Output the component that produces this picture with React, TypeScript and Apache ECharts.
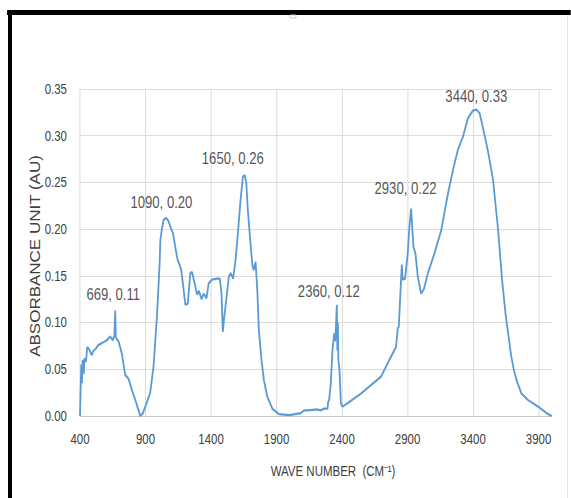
import React, { useEffect, useRef } from "react";
import * as echarts from "echarts";

// Wave numbers (cm^-1) and absorbance
const waveNumbers = [
  400, 405, 410, 415, 420, 428, 435, 445, 456, 471, 489, 500, 520, 540, 566, 604, 630, 650, 662, 669, 673, 677,
  694, 719, 745, 770, 796, 829, 860, 880, 911, 936, 961, 987, 1008, 1013, 1025, 1038, 1058, 1074, 1093, 1110,
  1127, 1145, 1160, 1173, 1191, 1204, 1222, 1242, 1255, 1275, 1293, 1308, 1327, 1344, 1365, 1382, 1408, 1447,
  1467, 1480, 1490, 1500, 1510, 1536, 1550, 1569, 1587, 1605, 1625, 1643, 1656, 1669, 1681, 1697, 1715, 1725,
  1740, 1753, 1765, 1785, 1804, 1829, 1855, 1868, 1918, 2000, 2085, 2110, 2136, 2212, 2238, 2263, 2289, 2294,
  2301, 2314, 2327, 2340, 2348, 2356, 2360, 2364, 2368, 2372, 2380, 2391, 2404, 2455, 2544, 2620, 2697, 2761,
  2812, 2825, 2833, 2845, 2856, 2863, 2881, 2901, 2914, 2927, 2935, 2945, 2960, 2978, 3003, 3024, 3055, 3105,
  3157, 3208, 3246, 3284, 3323, 3361, 3399, 3425, 3450, 3476, 3514, 3552, 3591, 3621, 3647, 3662, 3690, 3710,
  3731, 3769, 3820, 3897, 3961, 4000,
];
const absorbance = [
  0.0, 0.03, 0.055, 0.035, 0.06, 0.045, 0.062, 0.058, 0.074, 0.071, 0.065, 0.069, 0.072, 0.076, 0.078, 0.081,
  0.085, 0.081, 0.086, 0.113, 0.085, 0.083, 0.08, 0.067, 0.044, 0.04, 0.028, 0.014, 0.0, 0.003, 0.015, 0.025,
  0.053, 0.106, 0.164, 0.188, 0.2, 0.21, 0.212, 0.209, 0.201, 0.1955, 0.181, 0.167, 0.162, 0.156, 0.135, 0.119,
  0.12, 0.153, 0.154, 0.142, 0.13, 0.134, 0.125, 0.131, 0.126, 0.142, 0.146, 0.147, 0.147, 0.131, 0.09, 0.105,
  0.117, 0.149, 0.153, 0.147, 0.167, 0.1955, 0.231, 0.256, 0.258, 0.25, 0.22, 0.192, 0.162, 0.156, 0.165, 0.135,
  0.092, 0.06, 0.038, 0.021, 0.012, 0.008, 0.002, 0.001, 0.003, 0.006, 0.006, 0.007, 0.006, 0.008, 0.008,
  0.015, 0.017, 0.035, 0.071, 0.0885, 0.08, 0.105, 0.119, 0.07, 0.1, 0.06, 0.05, 0.0135, 0.01, 0.015, 0.024,
  0.033, 0.042, 0.06, 0.074, 0.094, 0.0955, 0.131, 0.162, 0.146, 0.147, 0.174, 0.2026, 0.222, 0.2026, 0.181,
  0.174, 0.149, 0.131, 0.1356, 0.153, 0.174, 0.199, 0.238, 0.263, 0.285, 0.299, 0.319, 0.327, 0.328, 0.324,
  0.308, 0.283, 0.253, 0.199, 0.146, 0.11, 0.094, 0.065, 0.05, 0.0385, 0.024, 0.017, 0.01, 0.003, 0.0,
];

// Peak annotations
const peakWaveNumbers = [669, 1090, 1650, 2360, 2930, 3440];
const peakAbsorbance = [0.11, 0.2, 0.26, 0.12, 0.22, 0.33];
const peakLabels = ["669, 0.11", "1090, 0.20", "1650, 0.26", "2360, 0.12", "2930, 0.22", "3440, 0.33"];

const xTickStart = 400;
const xTickEnd = 4000;
const xTickStep = 500;
const yTickStart = 0;
const yTickEnd = 0.35;
const yTickStep = 0.05;

const xTitle = "WAVE NUMBER  (CM\u207B\u00B9)";
const yTitle = "ABSORBANCE UNIT (AU)";

const FONT = "'Liberation Sans', Arial, sans-serif";

// the reference picture is squeezed horizontally; draw wide and squeeze the same way
const PAGE_W = 571;
const PAGE_H = 498;
const SQUEEZE = 0.82;
const W = PAGE_W / SQUEEZE;
const sx = (px: number) => px / SQUEEZE;

// label placement relative to the annotated point (page px)
const labelOffsets: [number, number][] = [
  [-2, -19],
  [-9, -27],
  [-11, -15],
  [-8, -12],
  [-6, -22],
  [-2, -11],
];

export default function App() {
  const ref = useRef<HTMLDivElement>(null);
  useEffect(() => {
    if (!ref.current) return;
    const chart = echarts.init(ref.current, undefined, { renderer: "svg" });
    const gridCount = Math.round((xTickEnd - xTickStart) / xTickStep) + 1;
    const splitColors = [] as string[];
    for (let i = 0; i < gridCount; i++) splitColors.push("#d9d9d9");
    splitColors.push("rgba(0,0,0,0)");
    chart.setOption({
      animation: false,
      backgroundColor: "#ffffff",
      grid: { left: sx(80), right: sx(19), top: 89, bottom: 82, containLabel: false },
      xAxis: {
        type: "value",
        min: xTickStart,
        max: xTickEnd,
        interval: xTickStep,
        axisLine: { show: true, lineStyle: { color: "#c8c8c8", width: 1 } },
        axisTick: { show: false },
        axisLabel: {
          showMaxLabel: false,
          margin: 16,
          fontSize: 14,
          fontFamily: FONT,
          color: "#404040",
          formatter: (v: number) => String(v),
        },
        splitLine: { show: true, lineStyle: { color: splitColors, width: 1.2 } },
      },
      yAxis: {
        type: "value",
        min: yTickStart,
        max: yTickEnd,
        interval: yTickStep,
        axisLine: { show: false },
        axisTick: { show: false },
        axisLabel: {
          margin: sx(13),
          fontSize: 14,
          fontFamily: FONT,
          color: "#404040",
          formatter: (v: number) => v.toFixed(2),
        },
        splitLine: { show: true, lineStyle: { color: "#d9d9d9", width: 1 } },
      },
      series: [
        {
          type: "line",
          data: waveNumbers.map((w, i) => [w, absorbance[i]]),
          showSymbol: false,
          symbol: "none",
          lineStyle: { color: "#5b9bd5", width: 2.2 },
          z: 3,
        },
        {
          type: "scatter",
          symbolSize: 0,
          data: peakWaveNumbers.map((w, i) => ({
            value: [w, peakAbsorbance[i]],
            label: { offset: [sx(labelOffsets[i][0]), labelOffsets[i][1]] },
          })),
          label: {
            show: true,
            position: "inside",
            fontSize: 16,
            fontFamily: FONT,
            color: "#262626",
            formatter: (p: any) => peakLabels[p.dataIndex],
          },
          z: 5,
        },
      ],
      graphic: [
        { type: "rect", shape: { x: sx(7), y: 10, width: W, height: 5 }, style: { fill: "#000" } },
        { type: "rect", shape: { x: sx(8), y: 10, width: sx(4), height: PAGE_H }, style: { fill: "#000" } },
        { type: "line", shape: { x1: sx(567.5), y1: 15, x2: sx(567.5), y2: PAGE_H }, style: { stroke: "#e6e6e6", lineWidth: 1.2 } },
        { type: "rect", shape: { x: sx(290), y: 15, width: sx(6), height: 3 }, style: { fill: "#fff", stroke: "#cccccc", lineWidth: 1 } },
        {
          type: "text",
          x: sx(333),
          y: 471,
          style: { text: xTitle, fontSize: 14, fontFamily: FONT, fill: "#404040", align: "center", verticalAlign: "middle" },
        },
        {
          type: "text",
          x: sx(35),
          y: 256,
          rotation: Math.PI / 2,
          style: { text: yTitle, fontSize: 17, fontFamily: FONT, fill: "#404040", align: "center", verticalAlign: "middle" },
        },
      ],
    });
    return () => chart.dispose();
  }, []);
  return (
    <div
      style={{
        position: "fixed",
        left: 0,
        top: 0,
        width: PAGE_W,
        height: PAGE_H,
        overflow: "hidden",
        background: "#fff",
      }}
    >
      <div
        ref={ref}
        style={{
          width: W,
          height: PAGE_H,
          transform: `scaleX(${SQUEEZE})`,
          transformOrigin: "0 0",
        }}
      />
    </div>
  );
}
